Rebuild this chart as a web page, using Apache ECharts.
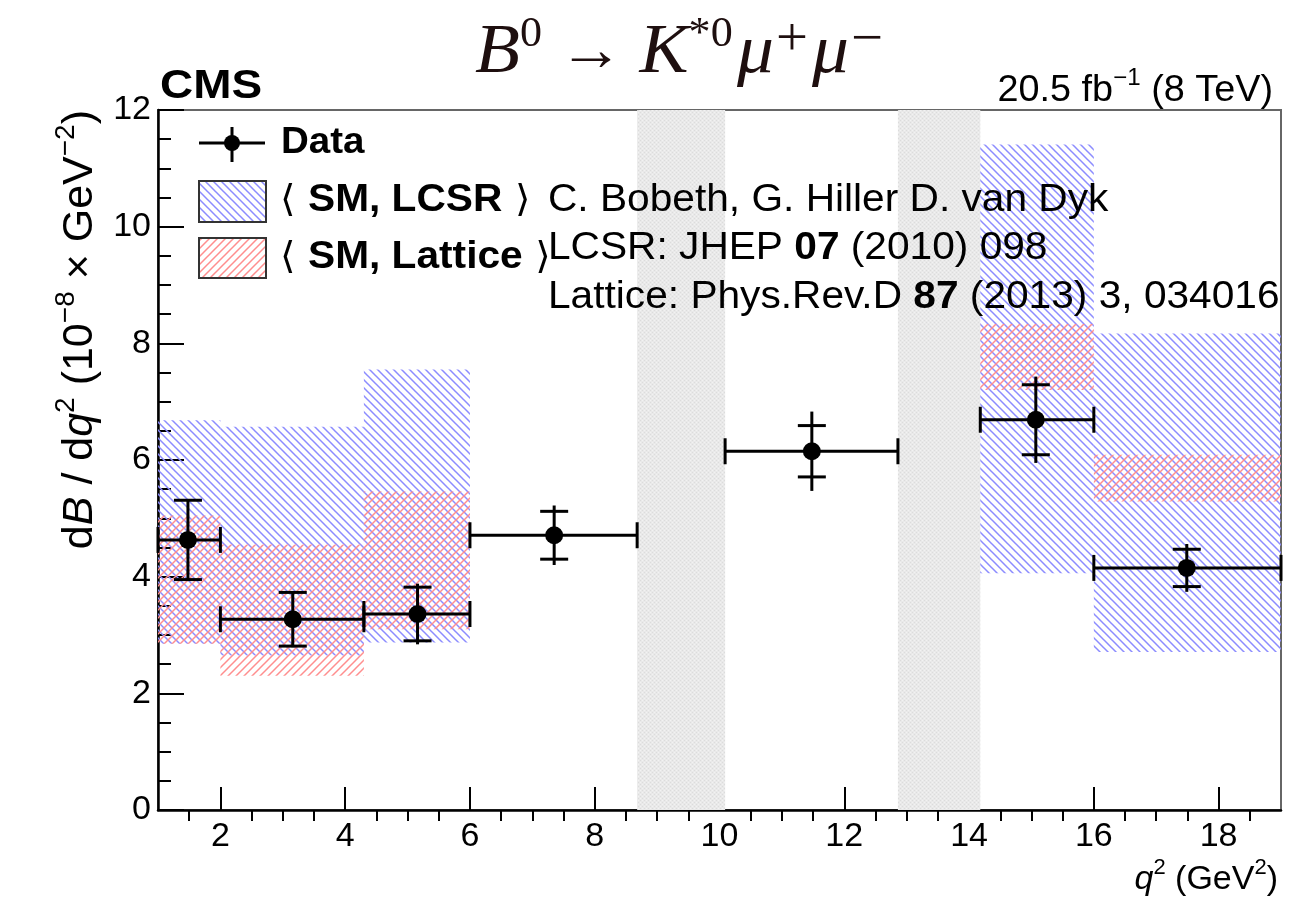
<!DOCTYPE html>
<html>
<head>
<meta charset="utf-8">
<script src="https://cdn.jsdelivr.net/npm/echarts@6/dist/echarts.min.js"></script>
<style>
  html, body { margin: 0; padding: 0; background: #fff; }
  #main { width: 1292px; height: 906px; }
</style>
</head>
<body>
<div id="main"></div>
<script>
// measured points (units 1e-8 GeV^-2)
var binLow = [1, 2, 4.3, 6, 10.09, 14.18, 16];
var binHigh = [2, 4.3, 6, 8.68, 12.86, 16, 19];
var q2Mean = [1.48, 3.16, 5.16, 7.35, 11.48, 15.07, 17.49];
var dataValue = [4.63, 3.27, 3.36, 4.71, 6.15, 6.69, 4.15];
var statErr = [0.68, 0.46, 0.46, 0.41, 0.44, 0.60, 0.32];
var totErr = [0.70, 0.48, 0.52, 0.51, 0.68, 0.74, 0.41];

// SM predictions, only for some bins
var thLow = [1, 2, 4.3, 14.18, 16];
var thHigh = [2, 4.3, 6, 16, 19];
var lcsrLow = [2.85, 2.65, 2.87, 4.06, 2.71];
var lcsrHigh = [6.68, 6.57, 7.55, 11.41, 8.17];
var latLow = [2.85, 2.30, 3.10, 7.20, 5.29];
var latHigh = [5.05, 4.55, 5.46, 8.33, 6.09];

// charmonium vetoed regions
var vetoLow = [8.68, 12.86];
var vetoHigh = [10.09, 14.18];

var xTicks = [2, 4, 6, 8, 10, 12, 14, 16, 18];
var yTicks = [0, 2, 4, 6, 8, 10, 12];
var xMinorTicks = [], yMinorTicks = [];
for (var t = 1.5; t < 19; t += 0.5) {
  if (t % 2 !== 0) xMinorTicks.push(t);
}
for (var u = 0.5; u < 12; u += 0.5) {
  if (u % 2 !== 0) yMinorTicks.push(u);
}

var FONT = 'Liberation Sans, Arial, Helvetica, sans-serif';
var SERIF = 'Liberation Serif, DejaVu Serif, serif';

// hatch fill like ROOT 3004 / 3005
function hatch(color, dir) {
  var s = 8;
  var c = document.createElement('canvas');
  c.width = s; c.height = s;
  var g = c.getContext('2d');
  g.strokeStyle = color;
  g.lineWidth = 1.5;
  g.beginPath();
  if (dir > 0) {
    g.moveTo(0, s); g.lineTo(s, 0);
    g.moveTo(-1, 1); g.lineTo(1, -1);
    g.moveTo(s - 1, s + 1); g.lineTo(s + 1, s - 1);
  } else {
    g.moveTo(0, 0); g.lineTo(s, s);
    g.moveTo(s - 1, -1); g.lineTo(s + 1, 1);
    g.moveTo(-1, s - 1); g.lineTo(1, s + 1);
  }
  g.stroke();
  return c;
}
// light grey stipple of the vetoed q2 regions
function stipple() {
  var c = document.createElement('canvas');
  c.width = 4; c.height = 4;
  var g = c.getContext('2d');
  g.fillStyle = '#e9e9e9';
  g.fillRect(0, 0, 4, 4);
  g.fillStyle = '#dcdcdc';
  g.fillRect(0, 0, 1, 1);
  g.fillRect(2, 2, 1, 1);
  g.fillStyle = '#f2f2f2';
  g.fillRect(2, 0, 1, 1);
  g.fillRect(0, 2, 1, 1);
  return c;
}
var bluePat = { image: hatch('#8c8cff', -1), repeat: 'repeat' };
var redPat = { image: hatch('#ff8e8e', 1), repeat: 'repeat' };
var greyPat = { image: stipple(), repeat: 'repeat' };

function rectSeries(name, data, fill, z) {
  return {
    name: name,
    type: 'custom',
    silent: true,
    z: z,
    data: data,
    renderItem: function (params, api) {
      var p0 = api.coord([api.value(0), api.value(3)]);
      var p1 = api.coord([api.value(1), api.value(2)]);
      return {
        type: 'rect',
        shape: { x: p0[0], y: p0[1], width: p1[0] - p0[0], height: p1[1] - p0[1] },
        style: { fill: fill }
      };
    }
  };
}

var vetoData = vetoLow.map(function (x, i) { return [x, vetoHigh[i], 0, 12]; });
var lcsrData = thLow.map(function (x, i) { return [x, thHigh[i], lcsrLow[i], lcsrHigh[i]]; });
var latData = thLow.map(function (x, i) { return [x, thHigh[i], latLow[i], latHigh[i]]; });
var pointData = q2Mean.map(function (x, i) {
  return [x, dataValue[i], binLow[i], binHigh[i], statErr[i], totErr[i]];
});

var myChart = echarts.init(document.getElementById('main'));

var tickLine = { color: '#000', width: 2 };
var option = {
  animation: false,
  backgroundColor: '#fff',
  grid: {
    left: 158, right: 11, top: 110, bottom: 96,
    show: true, borderColor: '#666', borderWidth: 2
  },
  xAxis: [
    {
      type: 'value', min: 1, max: 19,
      axisLine: { lineStyle: { color: '#000', width: 2.5 } },
      axisTick: { inside: true, length: 23, customValues: xTicks, lineStyle: tickLine },
      axisLabel: { customValues: xTicks, color: '#000', fontSize: 34, fontFamily: FONT, margin: 10 },
      splitLine: { show: false }
    },
    {
      type: 'value', min: 1, max: 19,
      axisLine: { show: false },
      axisTick: { inside: true, length: 11, customValues: xMinorTicks, lineStyle: tickLine },
      axisLabel: { show: false },
      splitLine: { show: false }
    }
  ],
  yAxis: [
    {
      type: 'value', min: 0, max: 12, interval: 2,
      axisLine: { show: true, lineStyle: { color: '#000', width: 2.5 } },
      axisTick: { inside: true, length: 26, customValues: yTicks, lineStyle: tickLine },
      axisLabel: { customValues: yTicks, color: '#000', fontSize: 34, fontFamily: FONT, margin: 7 },
      splitLine: { show: false }
    },
    {
      type: 'value', min: 0, max: 12, position: 'left',
      axisLine: { show: false },
      axisTick: { inside: true, length: 13, customValues: yMinorTicks, lineStyle: tickLine },
      axisLabel: { show: false },
      splitLine: { show: false }
    }
  ],
  series: [
    rectSeries('veto', vetoData, greyPat, 1),
    rectSeries('SM, LCSR', lcsrData, bluePat, 2),
    rectSeries('SM, Lattice', latData, redPat, 3),
    {
      name: 'Data',
      type: 'custom',
      z: 5,
      data: pointData,
      renderItem: function (params, api) {
        var x = api.value(0), y = api.value(1);
        var es = api.value(4), et = api.value(5);
        var c = api.coord([x, y]);
        var l = api.coord([api.value(2), y]);
        var h = api.coord([api.value(3), y]);
        var ts = api.coord([x, y + es]), bs = api.coord([x, y - es]);
        var tt = api.coord([x, y + et]), bt = api.coord([x, y - et]);
        var st = { stroke: '#000', lineWidth: 3 };
        function ln(x1, y1, x2, y2) {
          return { type: 'line', shape: { x1: x1, y1: y1, x2: x2, y2: y2 }, style: st };
        }
        return {
          type: 'group',
          children: [
            ln(l[0], c[1], h[0], c[1]),
            ln(l[0], c[1] - 13, l[0], c[1] + 13),
            ln(h[0], c[1] - 13, h[0], c[1] + 13),
            ln(c[0], tt[1], c[0], bt[1]),
            ln(c[0] - 14, ts[1], c[0] + 14, ts[1]),
            ln(c[0] - 14, bs[1], c[0] + 14, bs[1]),
            { type: 'circle', shape: { cx: c[0], cy: c[1], r: 9 }, style: { fill: '#000' } }
          ]
        };
      }
    }
  ],
  graphic: [
    // title
    {
      type: 'text', x: 475, y: 54, scaleX: 1.05, z: 100,
      style: {
        text: '{i|B}{s|0}{a| → }{i|K}{s|*0}{m|μ}{p|+}{m|μ}{p|−}',
        align: 'left', verticalAlign: 'middle',
        rich: {
          i: { fontFamily: SERIF, fontStyle: 'italic', fontSize: 70, lineHeight: 80, verticalAlign: 'middle', fill: '#1e0f0f' },
          m: { fontFamily: SERIF, fontStyle: 'italic', fontSize: 70, lineHeight: 80, verticalAlign: 'middle', fill: '#1e0f0f', padding: [0, 2, 0, 4] },
          a: { fontFamily: SERIF, fontSize: 62, lineHeight: 80, verticalAlign: 'middle', fill: '#1e0f0f' },
          s: { fontFamily: SERIF, fontSize: 42, lineHeight: 42, verticalAlign: 'top', fill: '#1e0f0f' },
          p: { fontFamily: SERIF, fontSize: 54, lineHeight: 30, verticalAlign: 'top', fill: '#1e0f0f' }
        }
      }
    },
    {
      type: 'text', x: 160, y: 87, scaleX: 1.12, z: 100,
      style: { text: 'CMS', fontFamily: FONT, fontWeight: 'bold', fontSize: 41, fill: '#000', align: 'left', verticalAlign: 'middle' }
    },
    {
      type: 'text', x: 1273, y: 91, scaleX: 1.05, z: 100,
      style: {
        text: '{n|20.5 fb}{s|−1}{n| (8 TeV)}',
        align: 'right', verticalAlign: 'middle',
        rich: {
          n: { fontFamily: FONT, fontSize: 36, lineHeight: 48, verticalAlign: 'middle', fill: '#000' },
          s: { fontFamily: FONT, fontSize: 23, lineHeight: 23, verticalAlign: 'top', fill: '#000' }
        }
      }
    },
    // legend
    { type: 'line', z: 100, shape: { x1: 199, y1: 143, x2: 265, y2: 143 }, style: { stroke: '#000', lineWidth: 3 } },
    { type: 'line', z: 100, shape: { x1: 232, y1: 127, x2: 232, y2: 162 }, style: { stroke: '#000', lineWidth: 3 } },
    { type: 'circle', z: 100, shape: { cx: 232, cy: 143, r: 8 }, style: { fill: '#000' } },
    {
      type: 'text', x: 281, y: 143, scaleX: 1.07, z: 100,
      style: { text: 'Data', fontFamily: FONT, fontWeight: 'bold', fontSize: 36, fill: '#000', verticalAlign: 'middle' }
    },
    { type: 'rect', z: 100, shape: { x: 199, y: 181, width: 67, height: 41 }, style: { fill: bluePat, stroke: '#333', lineWidth: 2 } },
    { type: 'rect', z: 100, shape: { x: 199, y: 238, width: 67, height: 40 }, style: { fill: redPat, stroke: '#333', lineWidth: 2 } },
    {
      type: 'text', x: 280, y: 201, scaleX: 1.07, z: 100,
      style: {
        text: '{n|⟨ }{b|SM, LCSR}{n| ⟩}',
        verticalAlign: 'middle',
        rich: {
          n: { fontFamily: 'DejaVu Sans, ' + FONT, fontSize: 37, fill: '#000' },
          b: { fontFamily: FONT, fontWeight: 'bold', fontSize: 38, fill: '#000' }
        }
      }
    },
    {
      type: 'text', x: 280, y: 258, scaleX: 1.07, z: 100,
      style: {
        text: '{n|⟨ }{b|SM, Lattice}{n| ⟩}',
        verticalAlign: 'middle',
        rich: {
          n: { fontFamily: 'DejaVu Sans, ' + FONT, fontSize: 37, fill: '#000' },
          b: { fontFamily: FONT, fontWeight: 'bold', fontSize: 38, fill: '#000' }
        }
      }
    },
    {
      type: 'text', x: 548, y: 201, scaleX: 1.07, z: 100,
      style: { text: 'C. Bobeth, G. Hiller D. van Dyk', fontFamily: FONT, fontSize: 38, fill: '#000', verticalAlign: 'middle' }
    },
    {
      type: 'text', x: 548, y: 249, scaleX: 1.07, z: 100,
      style: {
        text: '{n|LCSR: JHEP }{b|07}{n| (2010) 098}',
        verticalAlign: 'middle',
        rich: {
          n: { fontFamily: FONT, fontSize: 38, fill: '#000' },
          b: { fontFamily: FONT, fontWeight: 'bold', fontSize: 38, fill: '#000' }
        }
      }
    },
    {
      type: 'text', x: 548, y: 298, scaleX: 1.07, z: 100,
      style: {
        text: '{n|Lattice: Phys.Rev.D }{b|87}{n| (2013) 3, 034016}',
        verticalAlign: 'middle',
        rich: {
          n: { fontFamily: FONT, fontSize: 38, fill: '#000' },
          b: { fontFamily: FONT, fontWeight: 'bold', fontSize: 38, fill: '#000' }
        }
      }
    },
    // axis titles
    {
      type: 'text', x: 1278, y: 880, z: 100,
      style: {
        text: '{i|q}{s|2}{n| (GeV}{s|2}{n|)}',
        align: 'right', verticalAlign: 'middle',
        rich: {
          i: { fontFamily: FONT, fontStyle: 'italic', fontSize: 34, lineHeight: 46, verticalAlign: 'middle', fill: '#000' },
          n: { fontFamily: FONT, fontSize: 34, lineHeight: 46, verticalAlign: 'middle', fill: '#000' },
          s: { fontFamily: FONT, fontSize: 22, lineHeight: 22, verticalAlign: 'top', fill: '#000' }
        }
      }
    },
    {
      type: 'text', x: 80, y: 110, rotation: Math.PI / 2, z: 100,
      style: {
        text: '{n|d}{i|B}{n| / d}{i|q}{s|2}{n| (10}{s|−8}{n| × GeV}{s|−2}{n|)}',
        align: 'right', verticalAlign: 'middle',
        rich: {
          i: { fontFamily: FONT, fontStyle: 'italic', fontSize: 43, lineHeight: 56, verticalAlign: 'middle', fill: '#000' },
          n: { fontFamily: FONT, fontSize: 43, lineHeight: 56, verticalAlign: 'middle', fill: '#000' },
          s: { fontFamily: FONT, fontSize: 28, lineHeight: 28, verticalAlign: 'top', fill: '#000' }
        }
      }
    }
  ]
};

myChart.setOption(option);
</script>
</body>
</html>
